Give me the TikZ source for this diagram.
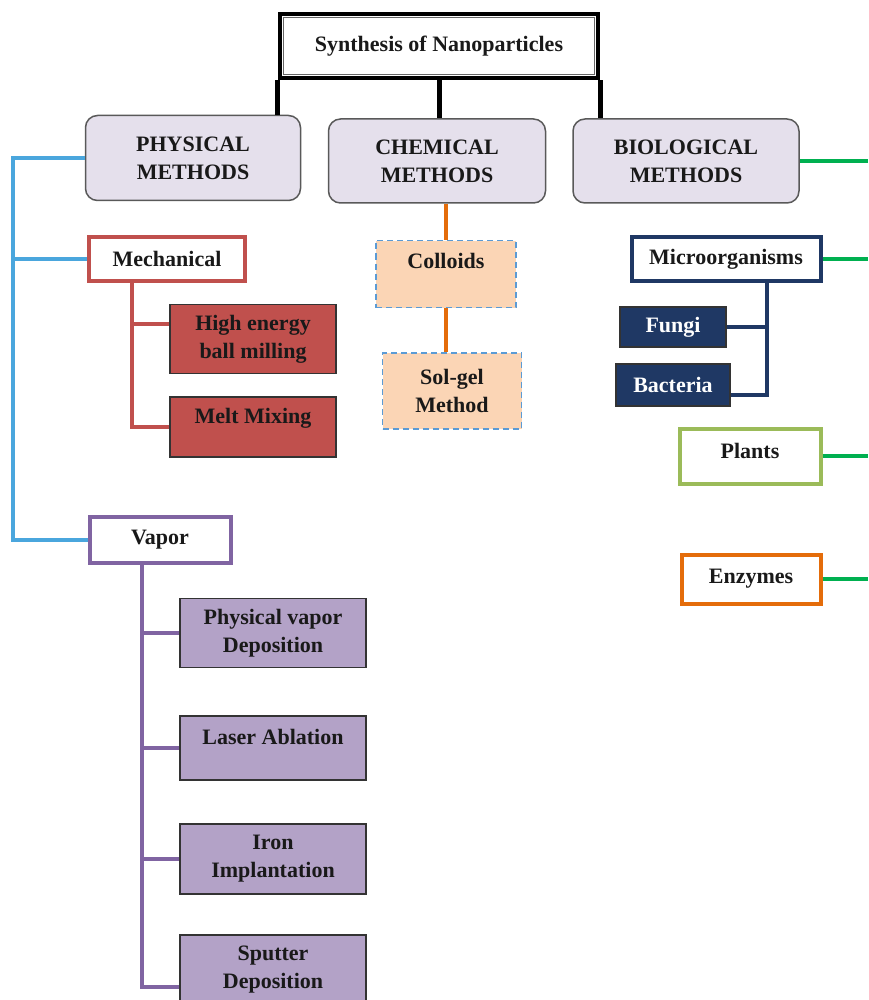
\documentclass[tikz,border=0pt]{standalone}
\usepackage{fontspec}
\setmainfont{Liberation Serif}
\usepackage{tikz}
\usetikzlibrary{positioning}
\definecolor{lavender}{HTML}{E5E0EC}
\definecolor{skyline}{HTML}{4AA6DD}
\definecolor{mechred}{HTML}{C0504D}
\definecolor{vapviolet}{HTML}{8064A2}
\definecolor{vaplilac}{HTML}{B3A2C7}
\definecolor{peach}{HTML}{FBD5B5}
\definecolor{dashblue}{HTML}{5B9BD5}
\definecolor{enzorange}{HTML}{E46C0A}
\definecolor{navy}{HTML}{1F3864}
\definecolor{leafgreen}{HTML}{9BBB59}
\definecolor{leafline}{HTML}{00B050}

\begin{document}
\begin{tikzpicture}[
    x=1pt, y=-1pt,
    every node/.style = {
        align=center, inner sep=0pt, text=black!90,
        font=\bfseries\fontsize{22}{28}\selectfont
    },
    method/.style = {draw=black!65, line width=1.5pt, fill=lavender, rounded corners=12pt},
    subbox/.style = {draw, fill=white, line width=4pt},
    leaf/.style = {draw=black!80, line width=1.2pt},
    chembox/.style = {draw=dashblue, line width=1.5pt, dash pattern=on 6pt off 4pt, fill=peach},
    toptext/.style = {text height=15pt, text depth=22pt},
    link/.style = {line width=4pt}
]
\useasboundingbox (0,0) rectangle (868,1000);

\node[draw, line width=4.5pt, minimum width=318pt, minimum height=64pt] (title) at (439,46) {Synthesis of Nanoparticles};
\draw[line width=1pt, black!60] ([shift={(6,6)}]title.north west) rectangle ([shift={(-6,-6)}]title.south east);

\node[method, minimum width=215pt, minimum height=85pt] (phys) at (193,158) {PHYSICAL\\METHODS};
\node[method, minimum width=217pt, minimum height=84pt] (chem) at (437,161) {CHEMICAL\\METHODS};
\node[method, minimum width=226pt, minimum height=84pt] (bio) at (686,161) {BIOLOGICAL\\METHODS};

\node[subbox, draw=mechred, minimum width=156pt, minimum height=44pt] (mech) at (167,259) {Mechanical};
\node[leaf, fill=mechred, minimum width=166pt, minimum height=69pt] (high) at (253,339) {High energy\\ball milling};
\node[leaf, fill=mechred, toptext, minimum width=166pt, minimum height=60pt] (melt) at (253,427) {Melt Mixing};

\node[subbox, draw=vapviolet, minimum width=141pt, minimum height=46pt] (vapor) at (160,540) {Vapor};
\node[leaf, fill=vaplilac, minimum width=186pt, minimum height=69pt] (pvd) at (273,633) {Physical vapor\\Deposition};
\node[leaf, fill=vaplilac, toptext, minimum width=186pt, minimum height=64pt] (laser) at (273,748) {Laser Ablation};
\node[leaf, fill=vaplilac, minimum width=186pt, minimum height=70pt] (iron) at (273,859) {Iron\\Implantation};
\node[leaf, fill=vaplilac, minimum width=186pt, minimum height=70pt] (sputter) at (273,970) {Sputter\\Deposition};

\node[chembox, toptext, text depth=26pt, minimum width=140pt, minimum height=67pt] (colloids) at (446,274) {Colloids};
\node[chembox, minimum width=139pt, minimum height=76pt] (solgel) at (452,391) {Sol-gel\\Method};

\node[subbox, draw=navy, minimum width=189pt, minimum height=44pt] (micro) at (726,259) {Microorganisms};
\node[leaf, fill=navy, text=white, minimum width=106pt, minimum height=40pt] (fungi) at (673,327) {Fungi};
\node[leaf, fill=navy, text=white, minimum width=114pt, minimum height=42pt] (bacteria) at (673,385) {Bacteria};
\node[subbox, draw=leafgreen, text depth=10pt, minimum width=141pt, minimum height=55pt] (plants) at (750,456) {Plants};
\node[subbox, draw=enzorange, minimum width=139pt, minimum height=49pt] (enzymes) at (751,579) {Enzymes};

\coordinate (pbus) at (13,0);
\coordinate (mbus) at (132,0);
\coordinate (vbus) at (142,0);
\coordinate (nbus) at (767,0);
\coordinate (gbus) at (868,0);

\draw[line width=5pt] (title.south west) -- (title.south west |- phys.north);
\draw[line width=5pt] (title.south) -- (title.south |- chem.north);
\draw[line width=5pt] (title.south east) -- (title.south east |- bio.north);

\draw[link, skyline] (phys.west) -- (phys.west -| pbus) |- (vapor.west);
\draw[link, skyline] (mech.west) -- (mech.west -| pbus);

\draw[link, mechred] (mbus |- mech.south) |- (melt.west);
\draw[link, mechred] (mbus |- high.170) -- (high.170);

\draw[link, vapviolet] (vbus |- vapor.south) |- (sputter.190);
\foreach \n in {pvd, laser, iron}
    \draw[link, vapviolet] (vbus |- \n.west) -- (\n.west);

\draw[link, enzorange] (chem.south -| colloids.north) -- (colloids.north);
\draw[link, enzorange] (colloids.south) -- (colloids.south |- solgel.north);

\draw[link, navy] (nbus |- micro.south) |- (bacteria.350);
\draw[link, navy] (fungi.east) -- (fungi.east -| nbus);

\foreach \n in {bio, micro, plants, enzymes}
    \draw[link, leafline] (\n.east) -- (\n.east -| gbus);
\end{tikzpicture}
\end{document}
